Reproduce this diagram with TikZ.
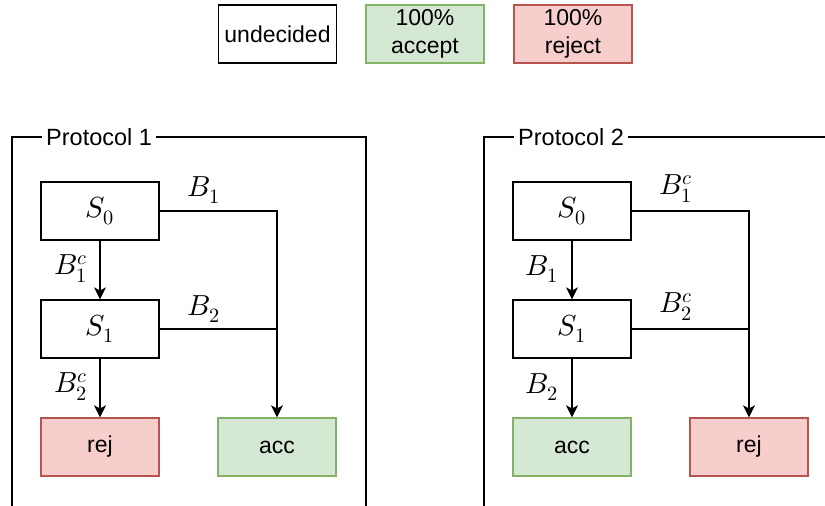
\documentclass[tikz,border=0pt]{standalone}
\usepackage{fontspec}
\setmainfont{Liberation Sans}
\usepackage{unicode-math}
\setmathfont{Latin Modern Math}
\usetikzlibrary{arrows.meta}
\definecolor{accfill}{HTML}{D5E8D4}
\definecolor{accline}{HTML}{82B366}
\definecolor{rejfill}{HTML}{F8CECC}
\definecolor{rejline}{HTML}{B85450}
\tikzset{
  box/.style={draw=black, line width=1.2pt, minimum width=118pt, minimum height=58pt, inner sep=0pt, align=center, font=\fontsize{23}{27.5}\selectfont},
  sbox/.style={box, font=\fontsize{29}{30}\selectfont},
  accbox/.style={box, draw=accline, fill=accfill},
  rejbox/.style={box, draw=rejline, fill=rejfill},
  frameline/.style={draw=black, line width=1.2pt},
  ftitle/.style={fill=white, inner sep=4pt, font=\fontsize{23.5}{26}\selectfont, anchor=west},
  lab/.style={inner sep=0pt, font=\fontsize{29}{30}\selectfont},
  conn/.style={draw=black, line width=1.3pt},
  arr/.style={conn, -{Stealth[length=12pt, width=12pt, inset=3pt]}},
}
\begin{document}
\begin{tikzpicture}[x=1pt, y=-1pt]
\useasboundingbox (0,0) rectangle (825,506);
\clip (0,0) rectangle (825,506);
% legend
\node[box] (und) at (277.5,34) {undecided};
\node[accbox] (lacc) at (425,34) {100\%\\accept};
\node[rejbox] (lrej) at (573,34) {100\%\\reject};
% frame 1
\draw[frameline] (12,506) -- (12,137) -- (366,137) -- (366,506);
\draw[draw=black!40, line width=1pt] (12,506) -- (366,506);
\node[ftitle] (t1) at (42,137) {Protocol 1};
% frame 2
\draw[frameline] (484,506) -- (484,137) -- (830,137);
\draw[draw=black!40, line width=1pt] (484,506) -- (830,506);
\node[ftitle] (t2) at (514,137) {Protocol 2};
% protocol 1
\node[sbox] (a0) at (100,211) {$S_0$};
\node[sbox] (a1) at (100,329) {$S_1$};
\node[rejbox] (arej) at (100,447) {rej};
\node[accbox] (aacc) at (277,447) {acc};
\draw[arr] (a0) -- (a1);
\draw[arr] (a1) -- (arej);
\draw[arr] (a0.east) -| (aacc.north);
\draw[conn] (a1.east) -- (a1.east -| aacc.north);
\node[lab] (ab1) at (204,190) {$B_1$};
\node[lab] (ab2) at (204,309) {$B_2$};
\node[lab] (ab1c) at (71,269) {$B_1^c$};
\node[lab] (ab2c) at (71,387) {$B_2^c$};
% protocol 2
\node[sbox] (b0) at (572,211) {$S_0$};
\node[sbox] (b1) at (572,329) {$S_1$};
\node[accbox] (bacc) at (572,447) {acc};
\node[rejbox] (brej) at (749,447) {rej};
\draw[arr] (b0) -- (b1);
\draw[arr] (b1) -- (bacc);
\draw[arr] (b0.east) -| (brej.north);
\draw[conn] (b1.east) -- (b1.east -| brej.north);
\node[lab] (bb1c) at (676,189) {$B_1^c$};
\node[lab] (bb2c) at (676,307) {$B_2^c$};
\node[lab] (bb1) at (542,269) {$B_1$};
\node[lab] (bb2) at (542,387) {$B_2$};
\end{tikzpicture}
\end{document}
